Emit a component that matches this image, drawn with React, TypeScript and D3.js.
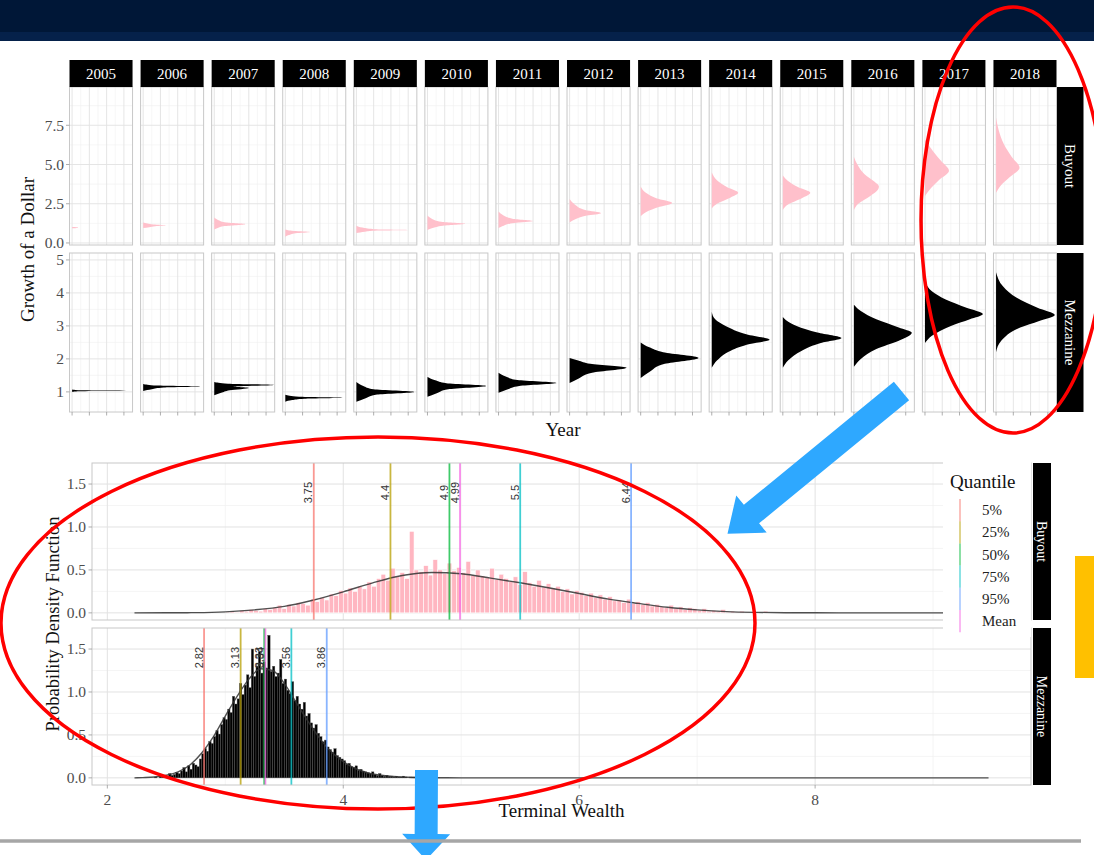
import React from "react";
import * as d3 from "d3";

// ---------- top chart: growth of a dollar by year ----------
const years = ["2005", "2006", "2007", "2008", "2009", "2010", "2011", "2012", "2013", "2014", "2015", "2016", "2017", "2018"];

// [growth, density] profiles
const buyoutGrowth: [number, number][][] = [
  [[0.93, 0], [0.96, 0.3], [0.99, 0.35], [1.02, 0]],
  [[0.95, 0], [1.0, 0.35], [1.07, 0.7], [1.13, 1.34], [1.18, 0.6], [1.24, 0.25], [1.3, 0]],
  [[0.85, 0], [0.95, 0.2], [1.08, 0.6], [1.2, 1.8], [1.3, 0.7], [1.45, 0.25], [1.62, 0]],
  [[0.4, 0], [0.5, 0.2], [0.62, 0.6], [0.7, 1.42], [0.76, 0.5], [0.85, 0]],
  [[0.64, 0], [0.72, 0.5], [0.79, 1.2], [0.83, 3.15], [0.88, 1.0], [0.98, 0.35], [1.1, 0]],
  [[0.82, 0], [0.95, 0.3], [1.1, 0.9], [1.22, 2.2], [1.35, 0.8], [1.55, 0.25], [1.75, 0]],
  [[0.95, 0], [1.1, 0.3], [1.28, 0.9], [1.4, 2.0], [1.55, 0.8], [1.78, 0.25], [2.0, 0]],
  [[1.3, 0], [1.5, 0.3], [1.75, 1.0], [1.9, 1.82], [2.1, 0.9], [2.45, 0.3], [2.8, 0]],
  [[1.7, 0], [1.95, 0.3], [2.3, 1.1], [2.55, 1.82], [2.85, 0.9], [3.2, 0.3], [3.6, 0]],
  [[2.2, 0], [2.5, 0.3], [2.9, 1.1], [3.2, 1.53], [3.55, 0.9], [4.0, 0.3], [4.5, 0]],
  [[2.1, 0], [2.45, 0.3], [2.85, 1.1], [3.2, 1.59], [3.55, 0.9], [3.95, 0.3], [4.3, 0]],
  [[2.1, 0], [2.5, 0.25], [3.0, 0.95], [3.4, 1.4], [3.6, 1.45], [3.9, 1.2], [4.4, 0.6], [5.0, 0.2], [5.5, 0]],
  [[3.0, 0], [3.5, 0.35], [4.0, 0.8], [4.6, 1.39], [5.2, 0.95], [5.8, 0.5], [6.6, 0]],
  [[3.2, 0], [3.7, 0.3], [4.2, 0.8], [4.8, 1.36], [5.5, 0.9], [6.3, 0.45], [7.2, 0.15], [8.0, 0]],
];

const mezzanineGrowth: [number, number][][] = [
  [[1.0, 0], [1.02, 0.4], [1.035, 3.4], [1.05, 0.35], [1.07, 0]],
  [[1.03, 0], [1.08, 0.5], [1.13, 1.2], [1.16, 3.35], [1.19, 0.8], [1.24, 0]],
  [[0.9, 0], [0.97, 0.4], [1.05, 0.9], [1.12, 2.0], [1.16, 1.1], [1.21, 3.45], [1.25, 0.8], [1.3, 0]],
  [[0.7, 0], [0.75, 0.4], [0.79, 1.1], [0.82, 3.35], [0.85, 0.8], [0.91, 0]],
  [[0.7, 0], [0.8, 0.5], [0.92, 1.2], [1.0, 3.35], [1.08, 1.0], [1.18, 0.4], [1.3, 0]],
  [[0.85, 0], [0.95, 0.5], [1.08, 1.2], [1.18, 3.4], [1.26, 1.1], [1.35, 0.45], [1.45, 0]],
  [[0.97, 0], [1.07, 0.5], [1.18, 1.2], [1.27, 3.35], [1.36, 1.1], [1.46, 0.45], [1.58, 0]],
  [[1.27, 0], [1.4, 0.5], [1.58, 1.3], [1.73, 3.3], [1.85, 1.2], [1.95, 0.5], [2.03, 0]],
  [[1.42, 0], [1.6, 0.5], [1.85, 1.4], [2.03, 3.35], [2.2, 1.3], [2.35, 0.5], [2.5, 0]],
  [[1.73, 0], [1.95, 0.3], [2.25, 1.1], [2.45, 2.2], [2.58, 3.35], [2.75, 2.0], [3.0, 0.8], [3.2, 0.2], [3.42, 0]],
  [[1.73, 0], [1.95, 0.3], [2.25, 1.1], [2.48, 2.2], [2.63, 3.4], [2.8, 2.0], [3.0, 0.8], [3.15, 0.25], [3.27, 0]],
  [[1.76, 0], [2.0, 0.4], [2.3, 1.3], [2.55, 2.6], [2.79, 3.35], [2.95, 2.6], [3.2, 1.3], [3.45, 0.4], [3.64, 0]],
  [[2.48, 0], [2.7, 0.4], [3.0, 1.5], [3.2, 2.6], [3.36, 3.35], [3.55, 2.4], [3.8, 1.2], [4.05, 0.4], [4.33, 0]],
  [[2.2, 0], [2.55, 0.3], [2.95, 1.4], [3.15, 2.5], [3.33, 3.4], [3.55, 2.4], [3.85, 1.2], [4.2, 0.4], [4.63, 0]],
];

const buyoutGrowthTicks = [0, 2.5, 5, 7.5];
const buyoutGrowthMinor = [1.25, 3.75, 6.25, 8.75];
const mezzGrowthTicks = [1, 2, 3, 4, 5];
const mezzGrowthMinor = [1.5, 2.5, 3.5, 4.5];
const densityTicks = [0, 1, 2, 3];
const densityMinor = [0.5, 1.5, 2.5];

// ---------- bottom chart: terminal wealth ----------
const quantileNames = ["5%", "25%", "50%", "75%", "95%", "Mean"];
const quantileColors = ["#F8766D", "#B79F00", "#00BA38", "#00BFC4", "#619CFF", "#F564E3"];
const buyoutQuantiles = [3.75, 4.4, 4.9, 5.5, 6.44, 4.99];
const buyoutQuantileLabels = ["3.75", "4.4", "4.9", "5.5", "6.44", "4.99"];
const mezzQuantiles = [2.82, 3.13, 3.33, 3.56, 3.86, 3.34];
const mezzQuantileLabels = ["2.82", "3.13", "3.33", "3.56", "3.86", "3.34"];

const buyoutBinStart = 3.0;
const buyoutBinWidth = 0.04;
const buyoutBins = [
  0.01, 0.02, 0.01, 0.03, 0.02, 0.04, 0.03, 0.02, 0.05, 0.04,
  0.06, 0.09, 0.05, 0.1, 0.08, 0.12, 0.11, 0.09, 0.16, 0.13,
  0.18, 0.15, 0.22, 0.2, 0.26, 0.23, 0.29, 0.25, 0.31, 0.28,
  0.36, 0.31, 0.4, 0.45, 0.38, 0.52, 0.42, 0.47, 0.4, 0.95,
  0.5, 0.48, 0.55, 0.44, 0.62, 0.5, 0.46, 0.58, 0.49, 0.53,
  0.47, 0.6, 0.44, 0.5, 0.43, 0.41, 0.52, 0.39, 0.45, 0.4,
  0.37, 0.42, 0.33, 0.48, 0.35, 0.31, 0.38, 0.3, 0.34, 0.29,
  0.31, 0.25, 0.28, 0.22, 0.26, 0.24, 0.2, 0.23, 0.18, 0.21,
  0.16, 0.19, 0.14, 0.15, 0.12, 0.16, 0.11, 0.13, 0.1, 0.12,
  0.08, 0.1, 0.07, 0.06, 0.09, 0.05, 0.07, 0.04, 0.06, 0.05,
  0.03, 0.05, 0.02, 0.03, 0.02, 0.04, 0.01, 0.02, 0.01, 0.02,
  0.01, 0.005, 0.01, 0.003, 0.02, 0.005, 0.004, 0.002, 0.01, 0.003,
];

const mezzBinStart = 2.4;
const mezzBinWidth = 0.02;
const mezzBins = [
  0.01, 0.0, 0.02, 0.01, 0.03, 0.02, 0.05, 0.03, 0.04, 0.06,
  0.05, 0.08, 0.12, 0.07, 0.14, 0.1, 0.17, 0.15, 0.13, 0.22,
  0.28, 0.34, 0.31, 0.42, 0.4, 0.48, 0.55, 0.51, 0.62, 0.7,
  0.68, 0.8, 0.76, 0.95, 0.86, 0.92, 1.1, 0.97, 1.08, 1.2,
  1.05, 1.5, 1.18, 1.3, 1.47, 1.22, 1.35, 1.28, 1.66, 1.24,
  1.3, 1.18, 1.22, 1.38, 1.1, 1.15, 1.02, 0.98, 1.12, 0.9,
  0.95, 0.86, 0.8, 0.88, 0.72, 0.75, 0.64, 0.58, 0.62, 0.52,
  0.48, 0.42, 0.44, 0.36, 0.33, 0.3, 0.34, 0.26, 0.24, 0.22,
  0.2, 0.16, 0.17, 0.13, 0.12, 0.14, 0.09, 0.1, 0.08, 0.07,
  0.06, 0.05, 0.07, 0.04, 0.03, 0.05, 0.03, 0.02, 0.03, 0.02,
  0.02, 0.01, 0.02, 0.01, 0.01, 0.02, 0.01, 0.0, 0.01, 0.01,
  0.01, 0.0, 0.005, 0.0, 0.01, 0.0, 0.0, 0.005, 0.0, 0.0,
];

const buyoutDensity: [number, number][] = [
  [2.23, 0], [2.5, 0.001], [2.75, 0.003], [3.0, 0.012], [3.25, 0.035], [3.5, 0.075], [3.75, 0.15],
  [4.0, 0.245], [4.25, 0.35], [4.5, 0.435], [4.75, 0.47], [5.0, 0.455], [5.25, 0.405], [5.5, 0.35],
  [5.75, 0.29], [6.0, 0.225], [6.25, 0.16], [6.5, 0.11], [6.75, 0.065], [7.0, 0.035], [7.25, 0.015],
  [7.5, 0.006], [7.75, 0.002], [8.0, 0.001], [8.5, 0], [9.47, 0],
];

const mezzDensity: [number, number][] = [
  [2.23, 0], [2.3, 0.003], [2.4, 0.01], [2.5, 0.03], [2.6, 0.07], [2.7, 0.15], [2.8, 0.29], [2.9, 0.48],
  [3.0, 0.72], [3.1, 0.95], [3.2, 1.15], [3.3, 1.27], [3.4, 1.25], [3.5, 1.1], [3.6, 0.88], [3.7, 0.66],
  [3.8, 0.46], [3.9, 0.3], [4.0, 0.19], [4.1, 0.11], [4.2, 0.06], [4.3, 0.035], [4.4, 0.02], [4.5, 0.01],
  [4.6, 0.005], [4.8, 0.002], [5.0, 0], [9.47, 0],
];

const wealthTicks = [2, 4, 6, 8];
const wealthMinor = [3, 5, 7, 9];
const pdfTicks = [0, 0.5, 1, 1.5];
const pdfMinor = [0.25, 0.75, 1.25];

const serif = "'Liberation Serif', 'Times New Roman', serif";
const sans = "'Liberation Sans', Arial, sans-serif";
const axisGrey = "#4d4d4d";
const gridMajor = "#e2e2e2";
const gridMinor = "#f0f0f0";
const border = "#c8c8c8";

// block arrow outline from a start point to a tip
function arrowPath(sx, sy, tx, ty, shaftW, headW, headLen) {
  const len = Math.hypot(tx - sx, ty - sy);
  const ux = (tx - sx) / len, uy = (ty - sy) / len;
  const nx = -uy, ny = ux;
  const bx = tx - ux * headLen, by = ty - uy * headLen;
  const p = [
    [sx + nx * shaftW / 2, sy + ny * shaftW / 2],
    [bx + nx * shaftW / 2, by + ny * shaftW / 2],
    [bx + nx * headW / 2, by + ny * headW / 2],
    [tx, ty],
    [bx - nx * headW / 2, by - ny * headW / 2],
    [bx - nx * shaftW / 2, by - ny * shaftW / 2],
    [sx - nx * shaftW / 2, sy - ny * shaftW / 2],
  ];
  return "M" + p.map((q) => q.join(",")).join("L") + "Z";
}

export default function App() {
  // top facets
  const fx = d3.scaleBand<string>().domain(years).range([69.5, 1056.5]).paddingInner(0.113);
  const pw = fx.bandwidth();
  const dx = d3.scaleLinear().domain([-0.15, 3.5]).range([0, pw]);
  const rows = [
    {
      name: "Buyout",
      y: d3.scaleLinear().domain([-0.13, 9.94]).range([245, 87]),
      ticks: buyoutGrowthTicks,
      minor: buyoutGrowthMinor,
      fmt: d3.format(".1f"),
      data: buyoutGrowth,
      fill: "pink",
    },
    {
      name: "Mezzanine",
      y: d3.scaleLinear().domain([0.39, 5.21]).range([412, 253]),
      ticks: mezzGrowthTicks,
      minor: mezzGrowthMinor,
      fmt: d3.format("d"),
      data: mezzanineGrowth,
      fill: "black",
    },
  ];

  // bottom panels
  const tw = d3.scaleLinear().domain([1.87, 9.83]).range([92, 1031]);
  const pdfRows = [
    {
      name: "Buyout",
      top: 463,
      bottom: 620,
      bins: buyoutBins,
      start: buyoutBinStart,
      step: buyoutBinWidth,
      fill: "#ffb6c1",
      stroke: "#ffffff",
      strokeW: 0.6,
      density: buyoutDensity,
      q: buyoutQuantiles,
      ql: buyoutQuantileLabels,
    },
    {
      name: "Mezzanine",
      top: 628,
      bottom: 785,
      bins: mezzBins,
      start: mezzBinStart,
      step: mezzBinWidth,
      fill: "#000000",
      stroke: "#555555",
      strokeW: 0.4,
      density: mezzDensity,
      q: mezzQuantiles,
      ql: mezzQuantileLabels,
    },
  ];
  const fmt1 = d3.format(".1f");

  return (
    <svg
      width={1094}
      height={855}
      viewBox="0 0 1094 855"
      style={{ position: "absolute", left: 0, top: 0, background: "#fff" }}
    >
      {/* slide header */}
      <rect x={0} y={0} width={1094} height={33} fill="#001737" />
      <rect x={0} y={32} width={1094} height={9} fill="#05214a" />

      {/* ---------- top facet grid ---------- */}
      {rows.map((r, ri) => {
        const [yb, yt] = r.y.range();
        const area = d3
          .area<[number, number]>()
          .y((d) => r.y(d[0]))
          .x0(dx(0))
          .x1((d) => dx(d[1]))
          .curve(d3.curveMonotoneY);
        return (
          <g key={r.name}>
            {years.map((yr, i) => (
              <g key={yr} transform={`translate(${fx(yr)},0)`}>
                <rect x={0} y={yt} width={pw} height={yb - yt} fill="#fff" />
                {r.minor.map((t) => (
                  <line key={"hm" + t} x1={0} x2={pw} y1={r.y(t)} y2={r.y(t)} stroke={gridMinor} strokeWidth={0.6} />
                ))}
                {densityMinor.map((t) => (
                  <line key={"vm" + t} x1={dx(t)} x2={dx(t)} y1={yt} y2={yb} stroke={gridMinor} strokeWidth={0.6} />
                ))}
                {r.ticks.map((t) => (
                  <line key={"h" + t} x1={0} x2={pw} y1={r.y(t)} y2={r.y(t)} stroke={gridMajor} strokeWidth={0.9} />
                ))}
                {densityTicks.map((t) => (
                  <line key={"v" + t} x1={dx(t)} x2={dx(t)} y1={yt} y2={yb} stroke={gridMajor} strokeWidth={0.9} />
                ))}
                <path d={area(r.data[i]) || ""} fill={r.fill} />
                <rect x={0} y={yt} width={pw} height={yb - yt} fill="none" stroke={border} strokeWidth={1} />
                {ri === 1 &&
                  densityTicks.map((t) => (
                    <line key={"xt" + t} x1={dx(t)} x2={dx(t)} y1={yb} y2={yb + 3.5} stroke="#999" strokeWidth={0.8} />
                  ))}
              </g>
            ))}
            {/* y axis */}
            {r.ticks.map((t) => (
              <g key={"yt" + t}>
                <line x1={66} x2={69.5} y1={r.y(t)} y2={r.y(t)} stroke="#999" strokeWidth={0.8} />
                <text
                  x={64}
                  y={r.y(t)}
                  dy="0.35em"
                  textAnchor="end"
                  fontFamily={serif}
                  fontSize={15.5}
                  fill={axisGrey}
                >
                  {r.fmt(t)}
                </text>
              </g>
            ))}
            {/* right strip */}
            <rect x={1057} y={yt} width={26.5} height={yb - yt} fill="#000" />
            <text
              transform={`translate(${1070.2},${(yt + yb) / 2}) rotate(90)`}
              textAnchor="middle"
              dy="0.35em"
              fontFamily={serif}
              fontSize={15}
              fill="#fff"
            >
              {r.name}
            </text>
          </g>
        );
      })}
      {/* top strips */}
      {years.map((yr) => (
        <g key={"s" + yr}>
          <rect x={fx(yr)} y={60} width={pw} height={27} fill="#000" />
          <text
            x={(fx(yr) as number) + pw / 2}
            y={73.5}
            dy="0.35em"
            textAnchor="middle"
            fontFamily={serif}
            fontSize={15}
            fill="#fff"
          >
            {yr}
          </text>
        </g>
      ))}
      <text
        transform={`translate(34,249.5) rotate(-90)`}
        textAnchor="middle"
        fontFamily={serif}
        fontSize={19}
        fill="#111"
      >
        Growth of a Dollar
      </text>
      <text x={563} y={436} textAnchor="middle" fontFamily={serif} fontSize={19} fill="#111">
        Year
      </text>

      {/* ---------- bottom faceted histograms ---------- */}
      {pdfRows.map((r) => {
        const py = d3.scaleLinear().domain([-0.083, 1.745]).range([r.bottom, r.top]);
        const line = d3
          .line<[number, number]>()
          .x((d) => tw(d[0]))
          .y((d) => py(d[1]))
          .curve(d3.curveMonotoneX);
        return (
          <g key={"pdf" + r.name}>
            <rect x={92} y={r.top} width={1031 - 92} height={r.bottom - r.top} fill="#fff" />
            {pdfMinor.map((t) => (
              <line key={"pm" + t} x1={92} x2={1031} y1={py(t)} y2={py(t)} stroke={gridMinor} strokeWidth={0.7} />
            ))}
            {wealthMinor.map((t) => (
              <line key={"wm" + t} x1={tw(t)} x2={tw(t)} y1={r.top} y2={r.bottom} stroke={gridMinor} strokeWidth={0.7} />
            ))}
            {pdfTicks.map((t) => (
              <line key={"p" + t} x1={92} x2={1031} y1={py(t)} y2={py(t)} stroke={gridMajor} strokeWidth={1} />
            ))}
            {wealthTicks.map((t) => (
              <line key={"w" + t} x1={tw(t)} x2={tw(t)} y1={r.top} y2={r.bottom} stroke={gridMajor} strokeWidth={1} />
            ))}
            {r.bins.map((v, i) => {
              const x0 = r.start + i * r.step;
              return (
                <rect
                  key={"b" + i}
                  x={tw(x0)}
                  y={py(v)}
                  width={tw(x0 + r.step) - tw(x0)}
                  height={py(0) - py(v)}
                  fill={r.fill}
                  stroke={r.stroke}
                  strokeWidth={r.strokeW}
                />
              );
            })}
            <path d={line(r.density) || ""} fill="none" stroke="#333" strokeWidth={1.4} strokeOpacity={0.85} />
            {r.q.map((q, i) => (
              <line
                key={"q" + i}
                x1={tw(q)}
                x2={tw(q)}
                y1={r.top}
                y2={r.bottom}
                stroke={quantileColors[i]}
                strokeOpacity={0.75}
                strokeWidth={1.8}
              />
            ))}
            {r.q.map((q, i) => (
              <text
                key={"ql" + i}
                transform={`translate(${tw(q) - 1.5},${py(1.4)}) rotate(-90)`}
                textAnchor="middle"
                fontFamily={sans}
                fontSize={11}
                fill="#333"
              >
                {r.ql[i]}
              </text>
            ))}
            <rect x={92} y={r.top} width={1031 - 92} height={r.bottom - r.top} fill="none" stroke={border} strokeWidth={1} />
            {pdfTicks.map((t) => (
              <g key={"pt" + t}>
                <line x1={88.5} x2={92} y1={py(t)} y2={py(t)} stroke="#999" strokeWidth={0.8} />
                <text x={86} y={py(t)} dy="0.35em" textAnchor="end" fontFamily={serif} fontSize={15.5} fill={axisGrey}>
                  {fmt1(t)}
                </text>
              </g>
            ))}
            <rect x={1033} y={r.top} width={18} height={r.bottom - r.top} fill="#000" />
            <text
              transform={`translate(${1042},${(r.top + r.bottom) / 2}) rotate(90)`}
              textAnchor="middle"
              dy="0.35em"
              fontFamily={serif}
              fontSize={14}
              fill="#fff"
            >
              {r.name}
            </text>
          </g>
        );
      })}
      {wealthTicks.map((t) => (
        <g key={"wt" + t}>
          <line x1={tw(t)} x2={tw(t)} y1={785} y2={788.5} stroke="#999" strokeWidth={0.8} />
          <text x={tw(t)} y={805} textAnchor="middle" fontFamily={serif} fontSize={15.5} fill={axisGrey}>
            {t}
          </text>
        </g>
      ))}
      <text
        transform={`translate(59,624) rotate(-90)`}
        textAnchor="middle"
        fontFamily={serif}
        fontSize={18.5}
        fill="#111"
      >
        Probability Density Function
      </text>
      <text x={561.5} y={817} textAnchor="middle" fontFamily={serif} fontSize={19} fill="#111">
        Terminal Wealth
      </text>

      {/* legend */}
      <rect x={943} y={456} width={88} height={181} fill="#fff" />
      <text x={950} y={488} fontFamily={serif} fontSize={19} fill="#111">
        Quantile
      </text>
      {quantileNames.map((n, i) => (
        <g key={"lg" + n}>
          <line
            x1={960}
            x2={960}
            y1={499 + i * 22.2}
            y2={499 + (i + 1) * 22.2}
            stroke={quantileColors[i]}
            strokeOpacity={0.5}
            strokeWidth={1.8}
          />
          <text x={982} y={510 + i * 22.2} dy="0.35em" fontFamily={serif} fontSize={15} fill="#222">
            {n}
          </text>
        </g>
      ))}

      {/* slide annotations */}
      <ellipse cx={1013} cy={220} rx={92} ry={213} fill="none" stroke="#ff0000" strokeWidth={3.5} />
      <ellipse cx={378} cy={623} rx={377} ry={186} fill="none" stroke="#ff0000" strokeWidth={3.5} />
      <path d={arrowPath(901.5, 391, 727.5, 533.7, 24, 48, 31)} fill="#2ea8ff" />
      <path d={arrowPath(426.5, 770, 426, 860, 23, 48, 26)} fill="#2ea8ff" />
      <rect x={1075} y={556} width={19} height={122} fill="#ffc000" />
      <line x1={0} x2={1081} y1={841} y2={841} stroke="#a6a6a6" strokeWidth={3.5} />
    </svg>
  );
}
